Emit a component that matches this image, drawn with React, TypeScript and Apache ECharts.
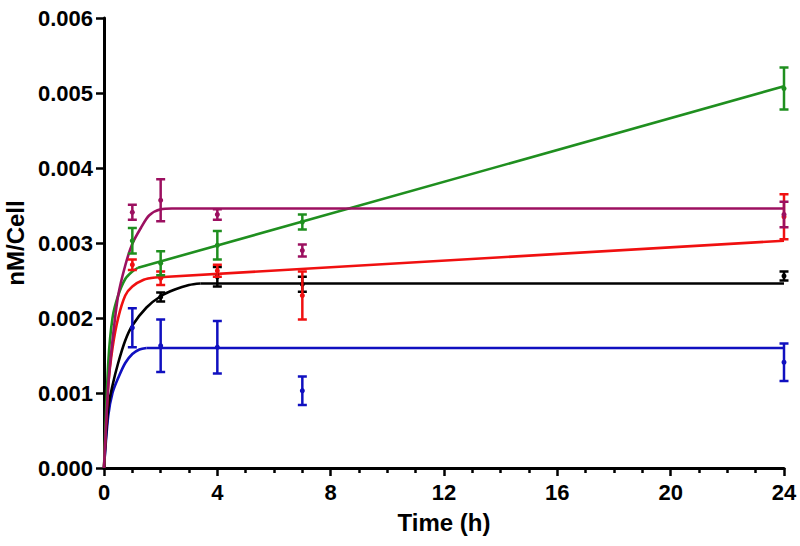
import React, { useEffect, useRef } from "react";
import * as echarts from "echarts";

// Measured time points (h)
const hours = [1, 2, 4, 7, 24];

// Means and error (SEM) per group
const maroonMean = [0.00341, 0.00357, 0.00338, 0.0029, 0.00338];
const maroonErr = [0.0001, 0.00028, 0.00007, 0.00008, 0.00017];
const greenMean = [0.00303, 0.00273, 0.00297, 0.00328, 0.00506];
const greenErr = [0.00017, 0.00016, 0.00019, 0.0001, 0.00028];
const redMean = [0.00271, 0.00253, 0.00263, 0.0023, 0.00335];
const redErr = [0.00007, 0.00009, 0.00008, 0.00032, 0.0003];
const blackHours = [2, 4, 7, 24];
const blackMean = [0.00228, 0.00255, 0.00245, 0.00256];
const blackErr = [0.00006, 0.00013, 0.0001, 0.00006];
const blueMean = [0.00187, 0.00163, 0.00161, 0.00103, 0.00141];
const blueErr = [0.00026, 0.00035, 0.00035, 0.00019, 0.00025];

// Fitted curves (time, value): rising part (smooth) and straight tail
const maroonRiseX = [0, 0.15, 0.3, 0.5, 0.75, 1.0, 1.3, 1.6, 2.0, 2.4];
const maroonRiseY = [0, 0.0011, 0.0017, 0.0023, 0.0027, 0.00299, 0.0032, 0.00337, 0.00345, 0.00346];
const maroonTailX = [2.4, 24];
const maroonTailY = [0.00346, 0.00346];

const greenRiseX = [0, 0.15, 0.3, 0.5, 0.75, 1.0, 1.2];
const greenRiseY = [0, 0.0014, 0.002, 0.0023, 0.00252, 0.00262, 0.00267];
const greenTailX = [1.2, 24];
const greenTailY = [0.00267, 0.00509];

const redRiseX = [0, 0.15, 0.3, 0.5, 0.75, 1.0, 1.4, 1.8];
const redRiseY = [0, 0.0011, 0.0016, 0.002, 0.0023, 0.00242, 0.00251, 0.00254];
const redTailX = [1.8, 24];
const redTailY = [0.00254, 0.00303];

const blackRiseX = [0, 0.15, 0.3, 0.5, 0.75, 1.0, 1.5, 2.0, 2.5, 3.0, 3.4];
const blackRiseY = [0, 0.0008, 0.0011, 0.0014, 0.0017, 0.0019, 0.00214, 0.00229, 0.00238, 0.00244, 0.00246];
const blackTailX = [3.4, 24];
const blackTailY = [0.00246, 0.00246];

const blueRiseX = [0, 0.15, 0.3, 0.5, 0.75, 1.0, 1.25, 1.5];
const blueRiseY = [0, 0.0007, 0.001, 0.0012, 0.0014, 0.00152, 0.00158, 0.0016];
const blueTailX = [1.5, 24];
const blueTailY = [0.0016, 0.0016];

const COLORS = {
  maroon: "#9c1060",
  green: "#1f8f1f",
  red: "#f01010",
  black: "#000000",
  blue: "#1010c0",
};

const FONT = "'Liberation Sans', Arial, sans-serif";

function zip2(xs: number[], ys: number[]) {
  return xs.map((x, i) => [x, ys[i]]);
}
function zip3(xs: number[], ys: number[], es: number[]) {
  return xs.map((x, i) => [x, ys[i], es[i]]);
}

function errSeries(name: string, color: string, data: number[][]) {
  return {
    type: "custom",
    name,
    data,
    encode: { x: 0, y: 1 },
    z: 3,
    renderItem: (params: any, api: any) => {
      const x = api.value(0);
      const m = api.value(1);
      const e = api.value(2);
      const p = api.coord([x, m]);
      const top = api.coord([x, m + e]);
      const bot = api.coord([x, m - e]);
      const st = { stroke: color, lineWidth: 2.5 };
      return {
        type: "group",
        children: [
          { type: "line", shape: { x1: p[0], y1: top[1], x2: p[0], y2: bot[1] }, style: st },
          { type: "line", shape: { x1: p[0] - 4.5, y1: top[1], x2: p[0] + 4.5, y2: top[1] }, style: st },
          { type: "line", shape: { x1: p[0] - 4.5, y1: bot[1], x2: p[0] + 4.5, y2: bot[1] }, style: st },
          { type: "circle", shape: { cx: p[0], cy: p[1], r: 2.5 }, style: { fill: color } },
        ],
      };
    },
  };
}

function curveSeries(name: string, color: string, data: number[][], smooth: number | boolean) {
  return {
    type: "line",
    name,
    data,
    smooth,
    showSymbol: false,
    symbol: "none",
    lineStyle: { color, width: 2.6 },
    z: 2,
  };
}

export default function App() {
  const ref = useRef<HTMLDivElement>(null);
  useEffect(() => {
    if (!ref.current) return;
    const chart = echarts.init(ref.current, undefined, { renderer: "svg" });
    chart.setOption({
      animation: false,
      backgroundColor: "#ffffff",
      grid: { left: 104, right: 16, top: 18, bottom: 78, containLabel: false, outerBoundsMode: "none" },
      xAxis: {
        type: "value",
        min: 0,
        max: 24,
        interval: 4,
        name: "Time (h)",
        nameLocation: "middle",
        nameGap: 42,
        nameTextStyle: { fontFamily: FONT, fontWeight: "bold", fontSize: 24, color: "#000" },
        axisLine: { show: true, lineStyle: { color: "#000", width: 3 } },
        axisTick: { show: true, length: 8, lineStyle: { color: "#000", width: 2.5 } },
        minorTick: { show: true, splitNumber: 4, length: 5, lineStyle: { color: "#000", width: 2.5 } },
        splitLine: { show: false },
        axisLabel: { fontFamily: FONT, fontWeight: "bold", fontSize: 22, color: "#000", margin: 13 },
      },
      yAxis: {
        type: "value",
        min: 0,
        max: 0.006,
        interval: 0.001,
        name: "nM/Cell",
        nameLocation: "middle",
        nameGap: 73,
        nameRotate: 90,
        nameTextStyle: { fontFamily: FONT, fontWeight: "bold", fontSize: 24, color: "#000" },
        axisLine: { show: true, lineStyle: { color: "#000", width: 3 } },
        axisTick: { show: true, length: 8, lineStyle: { color: "#000", width: 2.5 } },
        splitLine: { show: false },
        axisLabel: {
          fontFamily: FONT,
          fontWeight: "bold",
          fontSize: 22,
          color: "#000",
          margin: 11,
          formatter: (v: number) => v.toFixed(3),
        },
      },
      series: [
        curveSeries("blue fit", COLORS.blue, zip2(blueRiseX, blueRiseY), 0.3),
        curveSeries("blue fit tail", COLORS.blue, zip2(blueTailX, blueTailY), false),
        curveSeries("black fit", COLORS.black, zip2(blackRiseX, blackRiseY), 0.3),
        curveSeries("black fit tail", COLORS.black, zip2(blackTailX, blackTailY), false),
        curveSeries("red fit", COLORS.red, zip2(redRiseX, redRiseY), 0.3),
        curveSeries("red fit tail", COLORS.red, zip2(redTailX, redTailY), false),
        curveSeries("green fit", COLORS.green, zip2(greenRiseX, greenRiseY), 0.3),
        curveSeries("green fit tail", COLORS.green, zip2(greenTailX, greenTailY), false),
        curveSeries("maroon fit", COLORS.maroon, zip2(maroonRiseX, maroonRiseY), 0.3),
        curveSeries("maroon fit tail", COLORS.maroon, zip2(maroonTailX, maroonTailY), false),
        errSeries("blue", COLORS.blue, zip3(hours, blueMean, blueErr)),
        errSeries("black", COLORS.black, zip3(blackHours, blackMean, blackErr)),
        errSeries("red", COLORS.red, zip3(hours, redMean, redErr)),
        errSeries("green", COLORS.green, zip3(hours, greenMean, greenErr)),
        errSeries("maroon", COLORS.maroon, zip3(hours, maroonMean, maroonErr)),
      ],
    });
    return () => chart.dispose();
  }, []);
  return <div ref={ref} style={{ width: 800, height: 546, position: "absolute", left: 0, top: 0 }} />;
}
